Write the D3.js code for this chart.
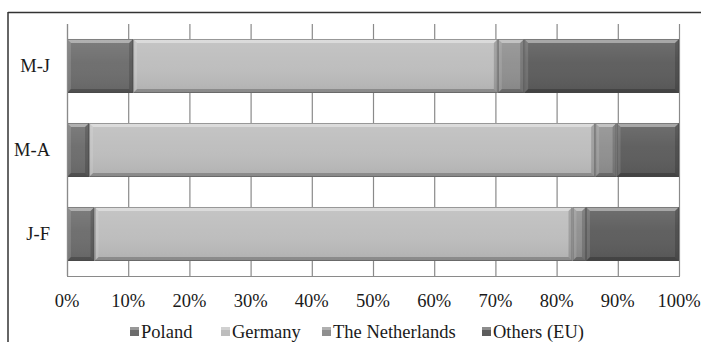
<!DOCTYPE html>
<html>
<head>
<meta charset="utf-8">
<script src="https://cdn.jsdelivr.net/npm/d3@7"></script>
<style>
  html, body { margin: 0; padding: 0; background: #fff; }
  svg { display: block; }
</style>
</head>
<body>
<svg id="chart" width="701" height="342"></svg>
<script>
// Periods shown as rows, top to bottom
const categories = ["M-J", "M-A", "J-F"];

// Share of each origin (percent) per period
const poland      = [10.8, 3.6, 4.5];
const germany     = [59.6, 82.7, 78.1];
const netherlands = [4.3, 3.5, 2.2];
const others      = [25.3, 10.2, 15.2];

const seriesNames = ["Poland", "Germany", "The Netherlands", "Others (EU)"];
const seriesValues = [poland, germany, netherlands, others];
const seriesColors = ["#6c6c6c", "#bdbdbd", "#8f8f8f", "#5c5c5c"];

const tickValues = [0, 10, 20, 30, 40, 50, 60, 70, 80, 90, 100];

const FONT = '"Liberation Serif"';
const FS = 18.5;

const svg = d3.select("#chart");

// Figure frame (top rule and left rule)
svg.append("line").attr("x1", 8).attr("x2", 701).attr("y1", 12.5).attr("y2", 12.5)
  .attr("stroke", "#333").attr("stroke-width", 1.5);
svg.append("line").attr("x1", 8).attr("x2", 8).attr("y1", 12).attr("y2", 342)
  .attr("stroke", "#333").attr("stroke-width", 1.5);

const plot = { left: 67, right: 679, top: 24, bottom: 276 };

const x = d3.scaleLinear().domain([0, 100]).range([plot.left, plot.right]);
const y = d3.scaleBand().domain(categories).range([plot.top, plot.bottom])
  .paddingInner(0.357).paddingOuter(0.1785);

// Vertical gridlines
svg.append("g").selectAll("line").data(tickValues).join("line")
  .attr("x1", d => x(d) + 0.5).attr("x2", d => x(d) + 0.5)
  .attr("y1", plot.top).attr("y2", plot.bottom)
  .attr("stroke", "#8a8a8a").attr("stroke-width", 1.2);

// Bottom edge of the plot
svg.append("line").attr("x1", plot.left).attr("x2", plot.right + 1)
  .attr("y1", plot.bottom + 0.5).attr("y2", plot.bottom + 0.5)
  .attr("stroke", "#8a8a8a").attr("stroke-width", 1.2);

// Face shading for the bars
const defs = svg.append("defs");
const face = defs.append("linearGradient").attr("id", "face")
  .attr("x1", 0).attr("y1", 0).attr("x2", 0).attr("y2", 1);
face.append("stop").attr("offset", "0%").attr("stop-color", "#fff").attr("stop-opacity", 0.12);
face.append("stop").attr("offset", "45%").attr("stop-color", "#fff").attr("stop-opacity", 0.03);
face.append("stop").attr("offset", "100%").attr("stop-color", "#000").attr("stop-opacity", 0.07);

// Stack the series
const rows = categories.map((c, i) => {
  let acc = 0;
  return seriesValues.map((vals, s) => {
    const seg = { cat: c, s, x0: acc, x1: acc + vals[i] };
    acc += vals[i];
    return seg;
  });
}).flat();

const b = 4;
const segG = svg.append("g").selectAll("g").data(rows).join("g");
segG.each(function (d) {
  const g = d3.select(this);
  const x0 = x(d.x0), x1 = x(d.x1), y0 = y(d.cat), y1 = y(d.cat) + y.bandwidth();
  const w = x1 - x0;
  const bb = Math.min(b, w / 2);
  g.append("rect").attr("x", x0).attr("y", y0).attr("width", w).attr("height", y1 - y0)
    .attr("fill", seriesColors[d.s]);
  g.append("rect").attr("x", x0).attr("y", y0).attr("width", w).attr("height", y1 - y0)
    .attr("fill", "url(#face)");
  const poly = pts => pts.map(p => p.join(",")).join(" ");
  // bevelled edges
  g.append("polygon").attr("points", poly([[x0, y0], [x1, y0], [x1 - bb, y0 + b], [x0 + bb, y0 + b]]))
    .attr("fill", "#fff").attr("opacity", 0.4);
  g.append("polygon").attr("points", poly([[x0, y0], [x0 + bb, y0 + b], [x0 + bb, y1 - b], [x0, y1]]))
    .attr("fill", "#fff").attr("opacity", 0.12);
  g.append("polygon").attr("points", poly([[x1, y0], [x1, y1], [x1 - bb, y1 - b], [x1 - bb, y0 + b]]))
    .attr("fill", "#000").attr("opacity", 0.16);
  g.append("polygon").attr("points", poly([[x0, y1], [x1, y1], [x1 - bb, y1 - b], [x0 + bb, y1 - b]]))
    .attr("fill", "#000").attr("opacity", 0.22);
  g.append("rect").attr("x", x0 + 0.5).attr("y", y0 + 0.5).attr("width", Math.max(0, w - 1)).attr("height", y1 - y0 - 1)
    .attr("fill", "none").attr("stroke", "#444").attr("stroke-opacity", 0.45).attr("stroke-width", 1);
});

// Left edge of the plot
svg.append("line").attr("x1", plot.left + 0.5).attr("x2", plot.left + 0.5)
  .attr("y1", plot.top).attr("y2", plot.bottom)
  .attr("stroke", "#8a8a8a").attr("stroke-width", 1.2);

// Category labels
svg.append("g").selectAll("text").data(categories).join("text")
  .attr("x", 50).attr("y", d => y(d) + y.bandwidth() / 2)
  .attr("dy", "0.35em").attr("text-anchor", "end")
  .style("font-family", FONT).attr("font-size", FS).attr("fill", "#1a1a1a")
  .text(d => d);

// Percentage tick labels
svg.append("g").selectAll("text").data(tickValues).join("text")
  .attr("x", d => x(d)).attr("y", 307)
  .attr("text-anchor", "middle")
  .style("font-family", FONT).attr("font-size", FS).attr("fill", "#1a1a1a")
  .text(d => d + "%");

// Legend
const legendX = [130, 221, 322, 482];
const leg = svg.append("g").selectAll("g").data(seriesNames).join("g")
  .attr("transform", (d, i) => `translate(${legendX[i]},0)`);
leg.append("rect").attr("x", 0).attr("y", 327).attr("width", 9).attr("height", 9)
  .attr("fill", (d, i) => seriesColors[i]);
leg.append("rect").attr("x", 0).attr("y", 327).attr("width", 9).attr("height", 3)
  .attr("fill", "#fff").attr("opacity", 0.3);
leg.append("text").attr("x", 11).attr("y", 338)
  .style("font-family", FONT).attr("font-size", FS).attr("fill", "#1a1a1a")
  .text(d => d);
</script>
</body>
</html>
